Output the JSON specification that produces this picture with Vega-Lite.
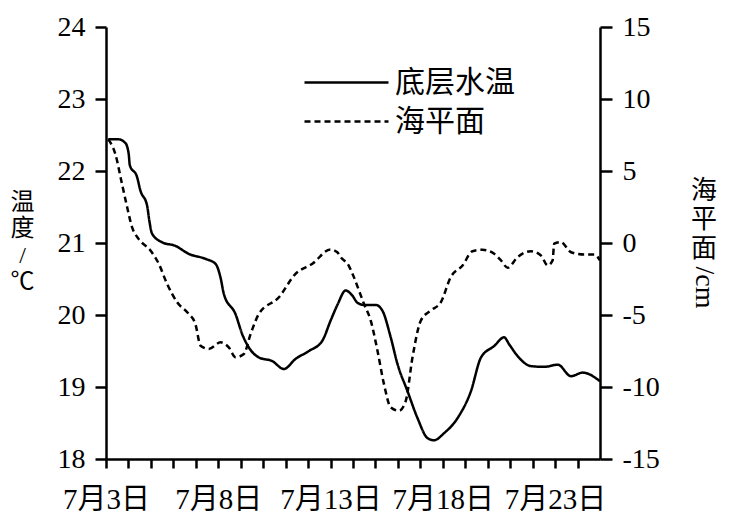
{
  "$schema": "https://vega.github.io/schema/vega-lite/v6.json",
  "autosize": "none",
  "width": 494,
  "height": 432,
  "padding": {"left": 106, "top": 27, "right": 130, "bottom": 66},
  "background": "white",
  "config": {
    "view": {"stroke": null},
    "axis": {
      "domainColor": "black", "domainWidth": 2.5,
      "tickColor": "black", "tickWidth": 2.5,
      "labelColor": "black", "labelFont": "Liberation Serif, Noto Sans CJK SC",
      "grid": false, "titleColor": "black", "titleFontWeight": "normal", "labelOverlap": false
    }
  },
  "datasets": {
    "temp": [
      {"day": 3.1, "temp": 22.44}, {"day": 3.55, "temp": 22.44}, {"day": 3.86, "temp": 22.39},
      {"day": 4.01, "temp": 22.24}, {"day": 4.06, "temp": 22.08}, {"day": 4.38, "temp": 21.92},
      {"day": 4.53, "temp": 21.73}, {"day": 4.83, "temp": 21.52}, {"day": 4.93, "temp": 21.31},
      {"day": 5.05, "temp": 21.13}, {"day": 5.5, "temp": 21.01}, {"day": 6.09, "temp": 20.96},
      {"day": 6.68, "temp": 20.85}, {"day": 7.43, "temp": 20.78}, {"day": 7.88, "temp": 20.71},
      {"day": 8.1, "temp": 20.52}, {"day": 8.25, "temp": 20.29}, {"day": 8.77, "temp": 20.01},
      {"day": 9.07, "temp": 19.73}, {"day": 9.36, "temp": 19.55}, {"day": 9.81, "temp": 19.41},
      {"day": 10.4, "temp": 19.36}, {"day": 10.92, "temp": 19.25}, {"day": 11.44, "temp": 19.39},
      {"day": 12.04, "temp": 19.5}, {"day": 12.63, "temp": 19.64}, {"day": 13.0, "temp": 19.92},
      {"day": 13.32, "temp": 20.15}, {"day": 13.67, "temp": 20.34}, {"day": 13.97, "temp": 20.27},
      {"day": 14.2, "temp": 20.17}, {"day": 14.49, "temp": 20.14}, {"day": 15.01, "temp": 20.14},
      {"day": 15.31, "temp": 20.06}, {"day": 15.68, "temp": 19.69}, {"day": 15.98, "temp": 19.32},
      {"day": 16.43, "temp": 18.94}, {"day": 16.87, "temp": 18.57}, {"day": 17.32, "temp": 18.29},
      {"day": 17.61, "temp": 18.26}, {"day": 18.06, "temp": 18.36}, {"day": 18.66, "temp": 18.57},
      {"day": 19.25, "temp": 18.94}, {"day": 19.7, "temp": 19.41}, {"day": 20.29, "temp": 19.57},
      {"day": 20.73, "temp": 19.69}, {"day": 20.96, "temp": 19.59}, {"day": 21.33, "temp": 19.43},
      {"day": 21.92, "temp": 19.29}, {"day": 22.52, "temp": 19.28}, {"day": 23.12, "temp": 19.31},
      {"day": 23.71, "temp": 19.15}, {"day": 24.23, "temp": 19.2}, {"day": 25.0, "temp": 19.08}
    ],
    "sea": [
      {"day": 3.1, "sea": 7.2}, {"day": 3.41, "sea": 6.21}, {"day": 3.71, "sea": 4.12},
      {"day": 3.94, "sea": 2.5}, {"day": 4.16, "sea": 1.1}, {"day": 4.45, "sea": 0.29},
      {"day": 4.98, "sea": -0.52}, {"day": 5.35, "sea": -1.44}, {"day": 5.72, "sea": -2.84},
      {"day": 6.17, "sea": -4.12}, {"day": 6.68, "sea": -4.92}, {"day": 6.98, "sea": -5.62},
      {"day": 7.21, "sea": -7.13}, {"day": 7.58, "sea": -7.36}, {"day": 8.1, "sea": -6.9},
      {"day": 8.47, "sea": -7.25}, {"day": 8.77, "sea": -7.94}, {"day": 9.14, "sea": -7.71},
      {"day": 9.44, "sea": -6.32}, {"day": 9.81, "sea": -4.92}, {"day": 10.7, "sea": -3.77},
      {"day": 11.44, "sea": -2.14}, {"day": 12.19, "sea": -1.44}, {"day": 13.0, "sea": -0.45},
      {"day": 13.3, "sea": -0.64}, {"day": 13.45, "sea": -0.98}, {"day": 13.82, "sea": -1.6},
      {"day": 14.02, "sea": -2.3}, {"day": 14.49, "sea": -4.23}, {"day": 14.79, "sea": -5.39},
      {"day": 15.09, "sea": -7.48}, {"day": 15.38, "sea": -9.8}, {"day": 15.68, "sea": -11.42},
      {"day": 16.05, "sea": -11.65}, {"day": 16.35, "sea": -10.96}, {"day": 16.65, "sea": -7.94},
      {"day": 17.02, "sea": -5.39}, {"day": 17.46, "sea": -4.69}, {"day": 17.91, "sea": -4.12},
      {"day": 18.35, "sea": -2.38}, {"day": 18.88, "sea": -1.56}, {"day": 19.32, "sea": -0.57},
      {"day": 19.77, "sea": -0.47}, {"day": 20.29, "sea": -0.75}, {"day": 20.59, "sea": -1.21},
      {"day": 20.89, "sea": -1.72}, {"day": 21.33, "sea": -0.98}, {"day": 21.92, "sea": -0.57},
      {"day": 22.37, "sea": -0.87}, {"day": 22.67, "sea": -1.56}, {"day": 22.89, "sea": -1.21},
      {"day": 22.96, "sea": -0.05}, {"day": 23.26, "sea": 0.06}, {"day": 23.71, "sea": -0.64},
      {"day": 24.3, "sea": -0.8}, {"day": 24.75, "sea": -0.8}, {"day": 25.0, "sea": -1.21}
    ]
  },
  "layer": [
    {
      "data": {"name": "temp"},
      "mark": {"type": "line", "color": "black", "strokeWidth": 2.5, "interpolate": "monotone"},
      "encoding": {
        "x": {
          "field": "day", "type": "quantitative",
          "scale": {"domain": [3, 25], "nice": false, "zero": false},
          "axis": {
            "values": [3, 4, 5, 6, 7, 8, 9, 10, 11, 12, 13, 14, 15, 16, 17, 18, 19, 20, 21, 22, 23, 24],
            "tickSize": 9,
            "encode": {"ticks": {"update": {"y2": {"signal": "datum.value % 5 == 3 ? 16 : 9"}}}},
            "labelExpr": "datum.value % 5 == 3 ? '7月' + datum.value + '日' : ''",
            "labelFontSize": 29, "labelPadding": 17, "labelOverlap": false, "labelFlush": false, "labelBound": false,
            "title": "/cm", "titleAngle": 90, "titleX": 597, "titleY": -172,
            "titleAlign": "center", "titleBaseline": "middle", "titleFontSize": 28, "titleFont": "Liberation Serif"
          }
        },
        "y": {
          "field": "temp", "type": "quantitative",
          "scale": {"domain": [18, 24], "nice": false, "zero": false},
          "axis": {
            "orient": "left", "values": [18, 19, 20, 21, 22, 23, 24], "tickSize": 11,
            "labelFontSize": 28, "labelPadding": 10, "labelExpr": "'' + datum.value",
            "title": ["温", "度", "/", "℃"], "titleAngle": 0, "titleX": -84, "titleY": 163,
            "titleAlign": "center", "titleBaseline": "top", "titleFontSize": 24, "titleLineHeight": 26.5,
            "titleFont": "Liberation Serif, Noto Sans CJK SC"
          }
        },
        "strokeDash": {
          "datum": "底层水温", "type": "nominal",
          "scale": {"domain": ["底层水温", "海平面"], "range": [[1, 0], [6, 4]]},
          "legend": {
            "orient": "none", "legendX": 225, "legendY": 40, "title": null,
            "symbolType": "M-3,0H3", "symbolSize": 784, "symbolStrokeWidth": 2.5, "symbolStrokeColor": "black",
            "labelFontSize": 30, "labelFont": "Liberation Serif, Noto Sans CJK SC", "labelColor": "black", "labelOffset": 33, "rowPadding": 8
          }
        }
      }
    },
    {
      "data": {"name": "sea"},
      "mark": {"type": "line", "color": "black", "strokeWidth": 2.5, "interpolate": "monotone"},
      "encoding": {
        "x": {
          "field": "day", "type": "quantitative",
          "axis": {
            "values": [3, 4, 5, 6, 7, 8, 9, 10, 11, 12, 13, 14, 15, 16, 17, 18, 19, 20, 21, 22, 23, 24],
            "tickSize": 9,
            "encode": {"ticks": {"update": {"y2": {"signal": "datum.value % 5 == 3 ? 16 : 9"}}}},
            "labelExpr": "datum.value % 5 == 3 ? '7月' + datum.value + '日' : ''",
            "labelFontSize": 29, "labelPadding": 17, "labelOverlap": false, "labelFlush": false, "labelBound": false,
            "title": "/cm", "titleAngle": 90, "titleX": 597, "titleY": -172,
            "titleAlign": "center", "titleBaseline": "middle", "titleFontSize": 28, "titleFont": "Liberation Serif"
          }
        },
        "y": {
          "field": "sea", "type": "quantitative",
          "scale": {"domain": [-15, 15], "nice": false, "zero": false},
          "axis": {
            "orient": "right", "values": [-15, -10, -5, 0, 5, 10, 15], "tickSize": 12,
            "labelFontSize": 28, "labelPadding": 10, "labelExpr": "'' + datum.value",
            "title": ["海", "平", "面"], "titleAngle": 0, "titleX": 103.5, "titleY": 150,
            "titleAlign": "center", "titleBaseline": "top", "titleFontSize": 26, "titleLineHeight": 29,
            "titleFont": "Liberation Serif, Noto Sans CJK SC"
          }
        },
        "strokeDash": {"datum": "海平面", "type": "nominal"}
      }
    }
  ],
  "resolve": {"scale": {"y": "independent"}}
}
